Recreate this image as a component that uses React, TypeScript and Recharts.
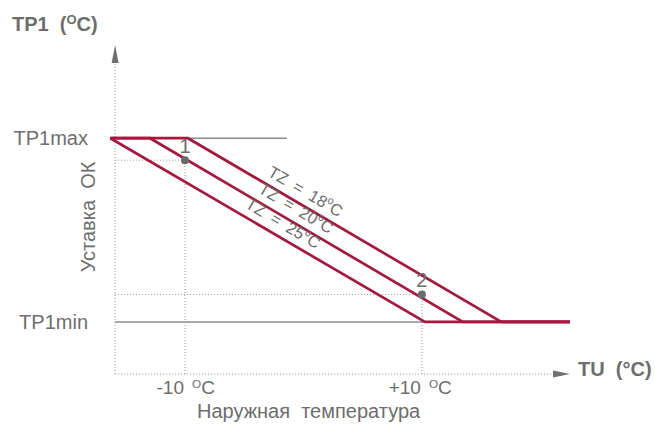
import { LineChart, Line, XAxis, YAxis, ReferenceLine, ReferenceDot } from 'recharts';

// outside temperature (°C) at the corners of each heating curve
const tempsTZ18 = [-16.3, -9.75, 16.7, 22.5];
const tempsTZ20 = [-16.3, -12.95, 13.45, 22.5];
const tempsTZ25 = [-16.3, -16.3, 10.25, 22.5];
// setpoint at those corners (TP1max, TP1max, TP1min, TP1min)
const curveSetpoints = [86, 86, 19, 19];

const curveNames = ['18', '20', '25'];
const curveLabelTemps = [-0.4, -1.2, -2.3];

const TP1_MAX = 86;
const TP1_MIN = 19;
const TP1_MAX_LINE_END = -1.4;

const pointTemps = [-10, 10];
const pointSetpoints = [78, 29];
const pointNames = ['1', '2'];

const xTicks = [-10, 10];
const xTickLabels = ['-10', '+10'];
const yTicks = [TP1_MIN, TP1_MAX];
const yTickLabels = ['TP1min', 'TP1max'];

const TEMP_DOMAIN = [-16.5, 22.5];
const SETPOINT_DOMAIN = [0, 120];
const AXIS_TEMP = -15.9;
const X_ARROW_BASE = 21.1;
const Y_ARROW_BASE = 113.4;

const RED = '#a8173c';
const TEXT = '#6d6d6d';
const RULE = '#8c8c8c';
const DOTTED = '#9a9a9a';
const FONT = '"Liberation Sans", Arial, sans-serif';
const SLOPE_ANGLE = 30.45;

const toRows = (temps: number[]) => temps.map((t, i) => ({ t, v: curveSetpoints[i] }));
const curves = [tempsTZ18, tempsTZ20, tempsTZ25];

function valueAt(temps: number[], t: number) {
  for (let i = 0; i < temps.length - 1; i++) {
    const a = temps[i];
    const b = temps[i + 1];
    if (t >= a && t <= b && b > a) {
      return curveSetpoints[i] + ((t - a) / (b - a)) * (curveSetpoints[i + 1] - curveSetpoints[i]);
    }
  }
  return curveSetpoints[curveSetpoints.length - 1];
}

function Degree({ size }: { size: number }) {
  return (
    <>
      <tspan fontSize={size * 0.62} dy={-size * 0.32}>
        O
      </tspan>
      <tspan dy={size * 0.32}>C</tspan>
    </>
  );
}

function XTick({ x, y, payload }: any) {
  const label = xTickLabels[xTicks.indexOf(payload.value)];
  return (
    <g fill={TEXT} fontSize={19}>
      <text x={x - 1} y={y} textAnchor="end">
        {label}
      </text>
      <text x={x + 7} y={y}>
        <Degree size={19} />
      </text>
    </g>
  );
}

function YTick({ x, y, payload }: any) {
  return (
    <text x={x} y={y} dy={7} textAnchor="end" fill={TEXT} fontSize={20}>
      {yTickLabels[yTicks.indexOf(payload.value)]}
    </text>
  );
}

export default function App() {
  return (
    <div style={{ position: 'absolute', left: 0, top: 0, width: 655, height: 428, background: '#fff', fontFamily: FONT }}>
      <LineChart width={655} height={428} margin={{ top: 45, right: 85, bottom: 0, left: 8 }}>
        <XAxis
          type="number"
          dataKey="t"
          domain={TEMP_DOMAIN}
          ticks={xTicks}
          tick={<XTick />}
          tickSize={0}
          tickMargin={20}
          axisLine={false}
          tickLine={false}
          height={54}
          allowDataOverflow
        />
        <YAxis
          type="number"
          domain={SETPOINT_DOMAIN}
          ticks={yTicks}
          tick={<YTick />}
          tickSize={0}
          tickMargin={20}
          axisLine={false}
          tickLine={false}
          width={100}
          allowDataOverflow
        />

        {/* dotted axes */}
        <ReferenceLine segment={[{ x: AXIS_TEMP, y: 0 }, { x: AXIS_TEMP, y: Y_ARROW_BASE }]} stroke={DOTTED} strokeDasharray="1 2" />
        <ReferenceLine segment={[{ x: AXIS_TEMP, y: 0 }, { x: X_ARROW_BASE, y: 0 }]} stroke={DOTTED} strokeDasharray="1 2" />
        <ReferenceDot
          x={AXIS_TEMP}
          y={SETPOINT_DOMAIN[1]}
          ifOverflow="visible"
          shape={(p: any) => <polygon points={`${p.cx},${p.cy} ${p.cx - 3.5},${p.cy + 18} ${p.cx + 3.5},${p.cy + 18}`} fill="#707070" />}
        />
        <ReferenceDot
          x={TEMP_DOMAIN[1]}
          y={0}
          ifOverflow="visible"
          shape={(p: any) => <polygon points={`${p.cx},${p.cy} ${p.cx - 17},${p.cy - 3.5} ${p.cx - 17},${p.cy + 3.5}`} fill="#707070" />}
        />

        {/* guides to the marked points */}
        {pointTemps.map((t, i) => (
          <ReferenceLine key={'gv' + i} segment={[{ x: t, y: 0 }, { x: t, y: pointSetpoints[i] }]} stroke={DOTTED} strokeDasharray="1 2" />
        ))}
        {pointTemps.map((t, i) => (
          <ReferenceLine key={'gh' + i} segment={[{ x: AXIS_TEMP, y: pointSetpoints[i] }, { x: t, y: pointSetpoints[i] }]} stroke={DOTTED} strokeDasharray="1 2" />
        ))}

        {/* TP1max / TP1min limits */}
        <ReferenceLine segment={[{ x: AXIS_TEMP, y: TP1_MAX }, { x: TP1_MAX_LINE_END, y: TP1_MAX }]} stroke={RULE} strokeWidth={1.5} />
        <ReferenceLine segment={[{ x: AXIS_TEMP, y: TP1_MIN }, { x: TEMP_DOMAIN[1], y: TP1_MIN }]} stroke={RULE} strokeWidth={1.5} />

        {curves.map((temps, i) => (
          <Line
            key={curveNames[i]}
            data={toRows(temps)}
            dataKey="v"
            type="linear"
            stroke={RED}
            strokeWidth={2.7}
            dot={false}
            activeDot={false}
            isAnimationActive={false}
          />
        ))}

        {curves.map((temps, i) => (
          <ReferenceDot
            key={'lbl' + i}
            x={curveLabelTemps[i]}
            y={valueAt(temps, curveLabelTemps[i])}
            shape={(p: any) => {
              const cx = p.cx + 7;
              const cy = p.cy - 12;
              return (
                <text
                  x={cx}
                  y={cy}
                  textAnchor="middle"
                  dominantBaseline="central"
                  fontSize={16.5}
                  fill={TEXT}
                  wordSpacing={4}
                  transform={`rotate(${SLOPE_ANGLE}, ${cx}, ${cy})`}
                >
                  {`TZ = ${curveNames[i]}`}
                  <tspan fontSize={11} dy={-5}>o</tspan>
                  <tspan dy={5}>C</tspan>
                </text>
              );
            }}
          />
        ))}

        {pointTemps.map((t, i) => (
          <ReferenceDot
            key={'pt' + i}
            x={t}
            y={pointSetpoints[i]}
            r={4}
            fill="#6a6a6a"
            stroke="none"
            label={{ value: pointNames[i], position: 'top', fill: TEXT, fontSize: 20, offset: 3 }}
          />
        ))}

        <text x={12} y={31} fill={TEXT} fontSize={20} fontWeight="bold" style={{ whiteSpace: 'pre' }}>
          {'TP1  ('}
          <tspan fontSize={13} dy={-7}>O</tspan>
          <tspan dy={7}>C)</tspan>
        </text>
        <text x={578} y={376} fill={TEXT} fontSize={20} fontWeight="bold" style={{ whiteSpace: 'pre' }}>
          {'TU  (°C)'}
        </text>
        <text x={197} y={418} fill={TEXT} fontSize={20} style={{ whiteSpace: 'pre' }}>
          {'Наружная  температура'}
        </text>
        <text x={95} y={217} fill={TEXT} fontSize={20} textAnchor="middle" transform="rotate(-90, 95, 217)" style={{ whiteSpace: 'pre' }}>
          {'Уставка  ОК'}
        </text>
      </LineChart>
    </div>
  );
}
